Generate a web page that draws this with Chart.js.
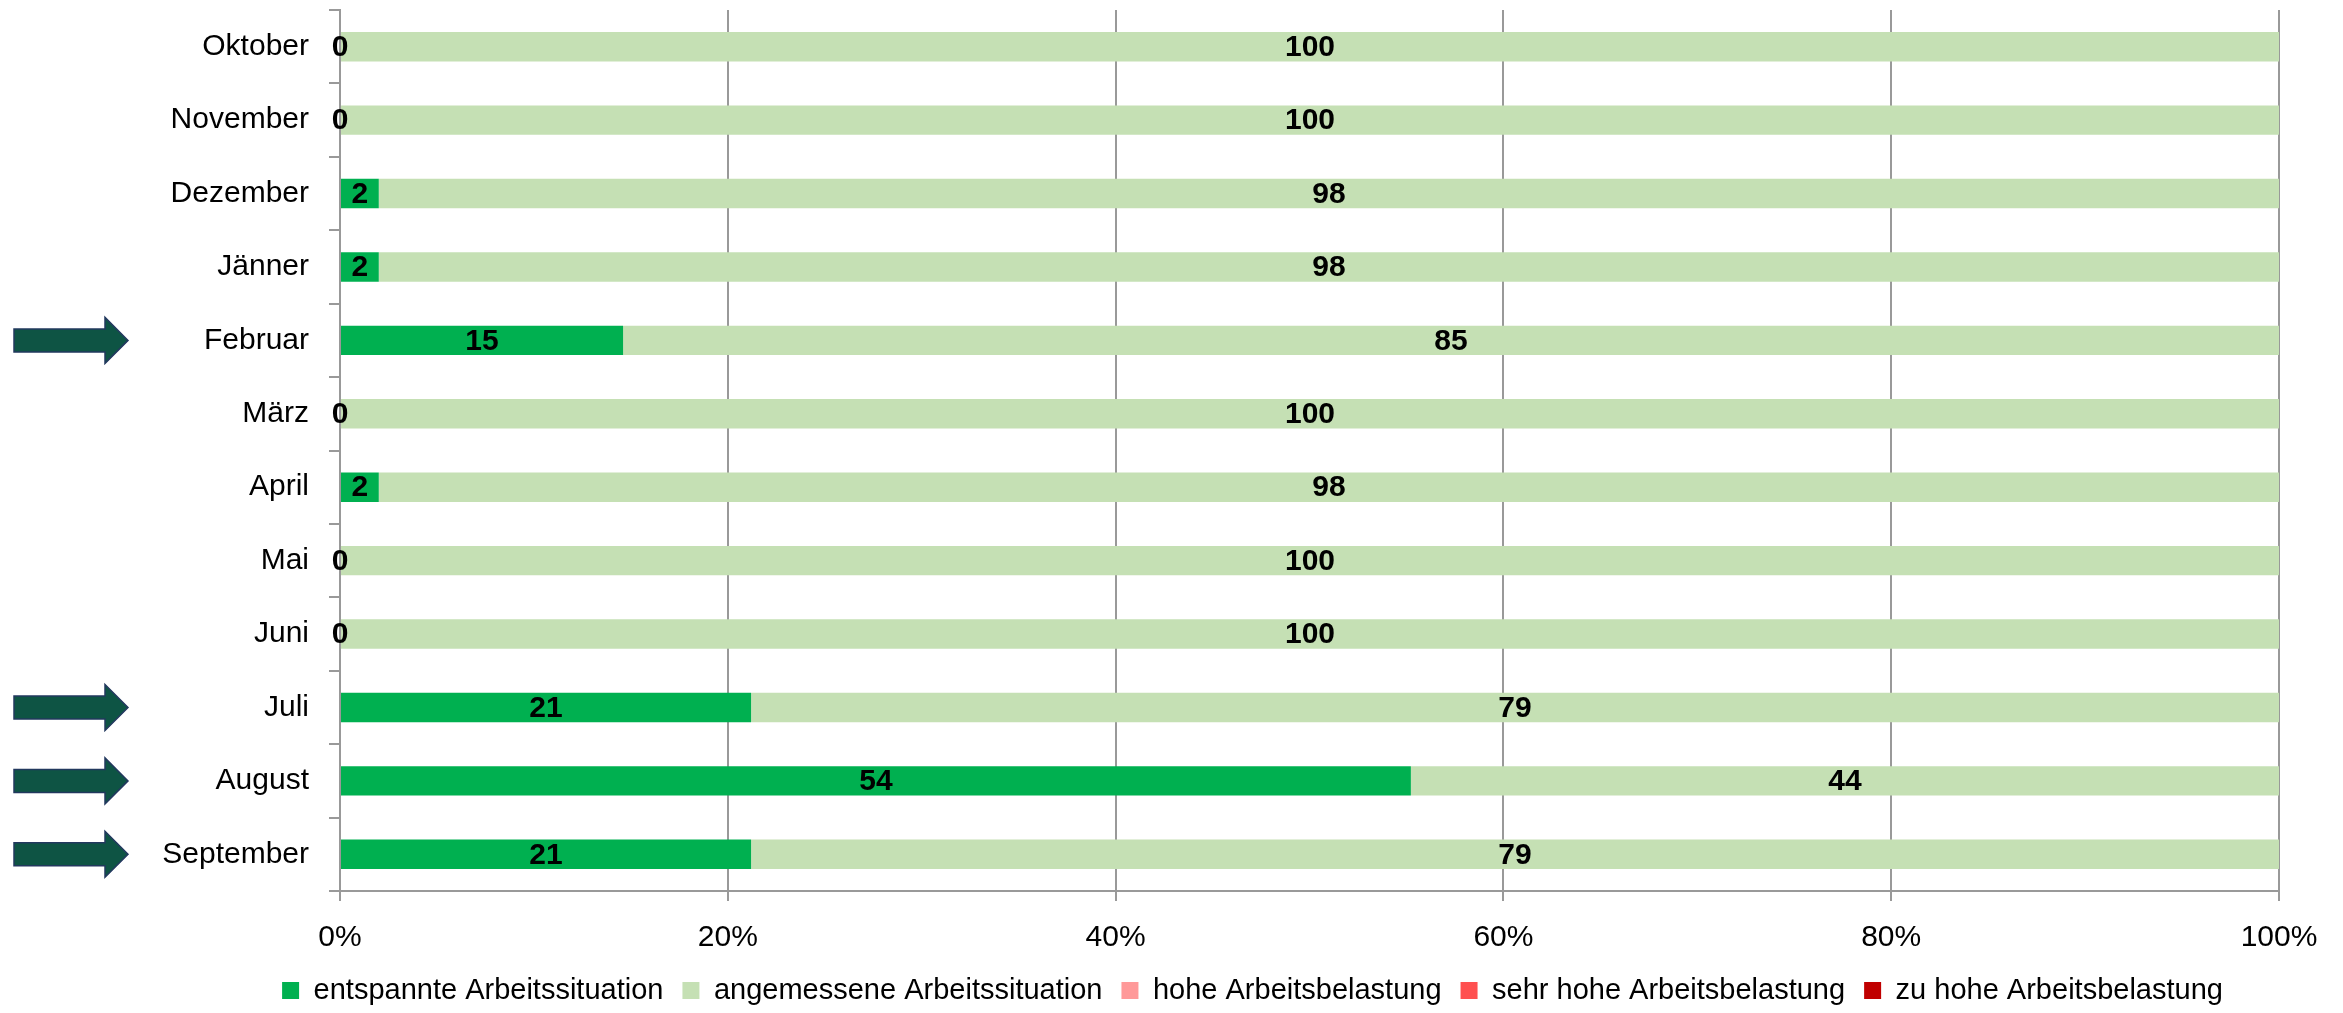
<!DOCTYPE html>
<html>
  <head>
    <title>Arbeitssituation</title>
    <script src="https://cdn.jsdelivr.net/npm/chart.js"></script>
    <style>
      body {
        margin: 0;
        background: #fff;
      }
      canvas {
        display: block;
      }
    </style>
  </head>
  <body>
    <canvas id="chart" width="2343" height="1013"></canvas>

    <script>
      // categories, top to bottom
      const months = [
        "Oktober",
        "November",
        "Dezember",
        "Jänner",
        "Februar",
        "März",
        "April",
        "Mai",
        "Juni",
        "Juli",
        "August",
        "September",
      ];

      // series values (bars are shown as share of each row, 100% stacked)
      const entspannt = [0, 0, 2, 2, 14.6, 0, 2, 0, 0, 21.2, 54.4, 21.2];
      const angemessen = [100, 100, 98, 98, 85.4, 100, 98, 100, 100, 78.8, 44.1, 78.8];
      const hoch = [0, 0, 0, 0, 0, 0, 0, 0, 0, 0, 0, 0];
      const sehrHoch = [0, 0, 0, 0, 0, 0, 0, 0, 0, 0, 0, 0];
      const zuHoch = [0, 0, 0, 0, 0, 0, 0, 0, 0, 0, 0, 0];

      const seriesNames = [
        "entspannte Arbeitssituation",
        "angemessene Arbeitssituation",
        "hohe Arbeitsbelastung",
        "sehr hohe Arbeitsbelastung",
        "zu hohe Arbeitsbelastung",
      ];

      // months marked with an arrow on the left
      const arrowMonths = ["Februar", "Juli", "August", "September"];

      const allSeries = [entspannt, angemessen, hoch, sehrHoch, zuHoch];
      const colors = ["#00B050", "#C5E0B4", "#FF9999", "#FF5050", "#C00000"];

      const totals = months.map((m, i) =>
        allSeries.reduce((sum, s) => sum + s[i], 0)
      );
      const toShare = (s) => s.map((v, i) => (v / totals[i]) * 100);

      const FONT = "'Liberation Sans', Arial, sans-serif";
      const GRID = "#999999";

      // value labels inside the first two series
      const barLabels = {
        id: "barLabels",
        afterDatasetsDraw(chart) {
          const ctx = chart.ctx;
          ctx.save();
          ctx.font = "bold 30px " + FONT;
          ctx.fillStyle = "#000";
          ctx.textAlign = "center";
          ctx.textBaseline = "middle";
          [0, 1].forEach((di) => {
            chart.getDatasetMeta(di).data.forEach((bar, i) => {
              const value = Math.round(allSeries[di][i]);
              ctx.fillText(value, (bar.x + bar.base) / 2, bar.y + 1);
            });
          });
          ctx.restore();
        },
      };

      // the dark arrows left of the marked months
      const arrows = {
        id: "arrows",
        afterDraw(chart) {
          const ctx = chart.ctx;
          const yScale = chart.scales.y;
          ctx.save();
          ctx.fillStyle = "#0E5444";
          ctx.strokeStyle = "#22385E";
          ctx.lineWidth = 1.5;
          arrowMonths.forEach((m) => {
            const yc = yScale.getPixelForValue(months.indexOf(m));
            ctx.beginPath();
            ctx.moveTo(14, yc - 11.5);
            ctx.lineTo(105, yc - 11.5);
            ctx.lineTo(105, yc - 23);
            ctx.lineTo(128, yc);
            ctx.lineTo(105, yc + 23);
            ctx.lineTo(105, yc + 11.5);
            ctx.lineTo(14, yc + 11.5);
            ctx.closePath();
            ctx.fill();
            ctx.stroke();
          });
          ctx.restore();
        },
      };

      // put the legend where the reference has it
      const legendPlacement = {
        id: "legendPlacement",
        afterInit(chart) {
          const fit = chart.legend.fit;
          chart.legend.fit = function () {
            fit.call(this);
            this.height = 56;
          };
        },
        afterLayout(chart) {
          chart.legend.left += 113;
          chart.legend.right += 113;
        },
      };

      new Chart(document.getElementById("chart"), {
        type: "bar",
        data: {
          labels: months,
          datasets: allSeries.map((s, i) => ({
            label: seriesNames[i],
            data: toShare(s),
            backgroundColor: colors[i],
            borderWidth: 0,
            categoryPercentage: 1,
            barPercentage: 0.4,
          })),
        },
        options: {
          indexAxis: "y",
          responsive: false,
          animation: false,
          layout: {
            padding: { top: 10, right: 64, left: 0, bottom: 0 },
          },
          scales: {
            x: {
              stacked: true,
              min: 0,
              max: 100,
              ticks: {
                stepSize: 20,
                padding: 19,
                color: "#000",
                font: { family: FONT, size: 30 },
                callback: (v) => v + "%",
              },
              grid: {
                color: GRID,
                lineWidth: 2,
                tickLength: 10,
              },
              border: { color: GRID, width: 2 },
              afterFit(scale) {
                scale.height = 66;
              },
            },
            y: {
              stacked: true,
              ticks: {
                padding: 20,
                color: "#000",
                font: { family: FONT, size: 30 },
              },
              grid: {
                drawOnChartArea: false,
                color: GRID,
                lineWidth: 2,
                tickLength: 11,
              },
              border: { color: GRID, width: 2 },
              afterFit(scale) {
                scale.width = 340;
                scale.paddingTop = 0;
                scale.paddingBottom = 0;
              },
            },
          },
          plugins: {
            tooltip: { enabled: false },
            legend: {
              position: "bottom",
              labels: {
                boxWidth: 17,
                boxHeight: 17,
                padding: 19,
                color: "#000",
                font: { family: FONT, size: 29 },
              },
            },
          },
        },
        plugins: [barLabels, arrows, legendPlacement],
      });
    </script>
  </body>
</html>
